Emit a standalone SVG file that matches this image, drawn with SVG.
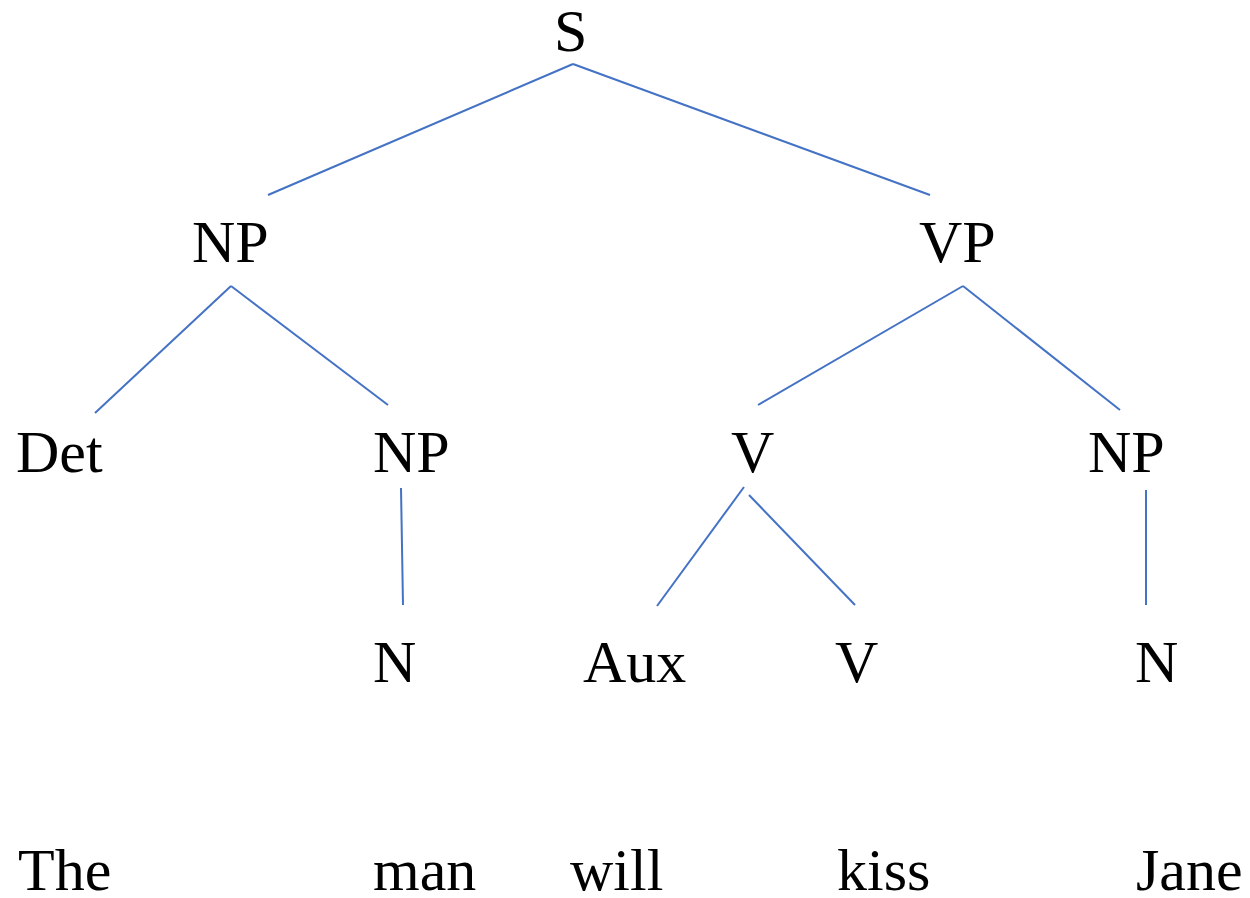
<svg xmlns="http://www.w3.org/2000/svg" width="1250" height="898" viewBox="0 0 1250 898">
<style>
text{font-family:"Liberation Serif","Times New Roman",serif;font-size:60px;fill:#000}
.e line{stroke:#4472C4;stroke-width:2;fill:none}
</style>
<rect width="1250" height="898" fill="#fff"/>
<g class="e" id="connectors">
<line x1="573" y1="64" x2="268" y2="195"/>
<line x1="573" y1="64" x2="930" y2="195"/>
<line x1="231" y1="286" x2="95" y2="413"/>
<line x1="231" y1="286" x2="388" y2="405"/>
<line x1="963" y1="286" x2="758" y2="405"/>
<line x1="963" y1="286" x2="1120" y2="410"/>
<line x1="401" y1="488" x2="403" y2="605"/>
<line x1="744" y1="487" x2="657" y2="606"/>
<line x1="749" y1="495" x2="855" y2="605"/>
<line x1="1146" y1="490" x2="1146" y2="605"/>
</g>
<g id="n-S"><text x="554" y="51">S</text></g>
<g id="n-NP1"><text x="192" y="262">NP</text></g>
<g id="n-VP"><text x="919" y="262">VP</text></g>
<g id="n-Det"><text x="16" y="472">Det</text></g>
<g id="n-NP2"><text x="373" y="472">NP</text></g>
<g id="n-V1"><text x="731" y="472">V</text></g>
<g id="n-NP3"><text x="1088" y="472">NP</text></g>
<g id="n-N1"><text x="373" y="682">N</text></g>
<g id="n-Aux"><text x="583" y="682">Aux</text></g>
<g id="n-V2"><text x="835" y="682">V</text></g>
<g id="n-N2"><text x="1135" y="682">N</text></g>
<g id="w-The"><text x="18" y="890">The</text></g>
<g id="w-man"><text x="373" y="890">man</text></g>
<g id="w-will"><text x="570" y="890">will</text></g>
<g id="w-kiss"><text x="837" y="890">kiss</text></g>
<g id="w-Jane"><text x="1136" y="890">Jane</text></g>
</svg>
